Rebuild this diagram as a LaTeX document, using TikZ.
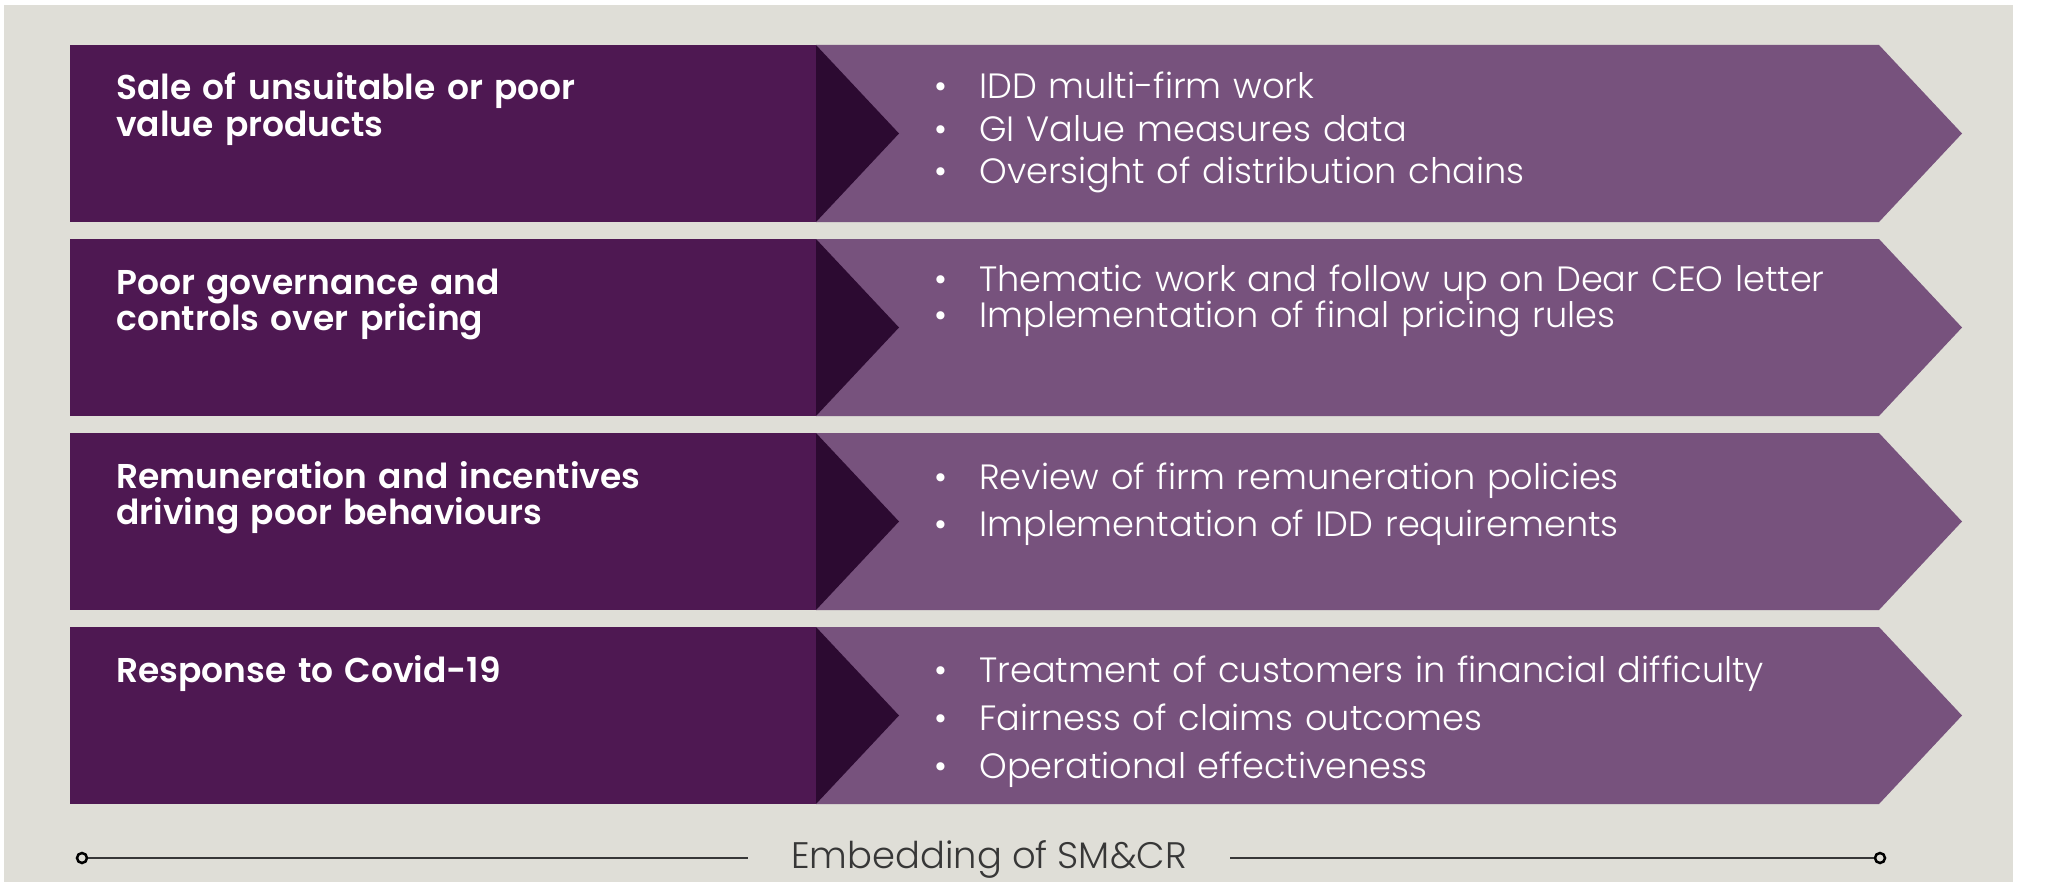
\documentclass[tikz,border=0pt]{standalone}
\usepackage{fontspec}
\usepackage{xcolor}
\usetikzlibrary{calc}
\newfontfamily\headfont{Poppins SemiBold}
\newfontfamily\itemfont{Poppins Light}
\definecolor{bggray}{RGB}{223,222,215}
\definecolor{plumdark}{RGB}{78,24,82}
\definecolor{plumdeep}{RGB}{44,10,49}
\definecolor{plumlight}{RGB}{119,82,125}
\definecolor{rulegray}{RGB}{55,55,55}
\newcommand{\itm}{\makebox[0.9cm][l]{\textbullet}}
% one band: dark box, notch and light arrow, hung on its top left corner
\newcommand{\band}[1]{%
  \fill[plumdark] (#1) rectangle ++(746,177);
  \fill[plumlight] ($(#1)+(746,0)$) -- ++(1063,0) -- ++(83,88.5) -- ++(-83,88.5) -- ++(-1063,0) -- cycle;
  \fill[plumdeep] ($(#1)+(746,0)$) -- ++(83,88.5) -- ++(-83,88.5) -- cycle;
}

\begin{document}
\begin{tikzpicture}[x=0.02cm,y=-0.02cm,
    headtext/.style={anchor=base west,inner sep=0pt,text width=12cm,align=left,text=white,
      font=\headfont\fontsize{19.6pt}{0.74cm}\selectfont},
    itemlist/.style={anchor=base west,inner sep=0pt,text width=19cm,align=left,text=white,
      font=\itemfont\fontsize{20pt}{#1}\selectfont},
    endring/.style={circle,draw=black,line width=0.05cm,fill=bggray,minimum size=0.2cm,inner sep=0pt},
    embtext/.style={anchor=base,inner xsep=0.86cm,inner ysep=0pt,text=rulegray,
      font=\itemfont\fontsize{21pt}{24pt}\selectfont},
    rule/.style={draw=rulegray,line width=0.024cm}]

    % canvas and backdrop
    \useasboundingbox (0,0) rectangle (2060,882);
    \fill[white] (0,0) rectangle (2060,882);
    \fill[bggray] (4,5) rectangle (2013,882);

    % Define the step between two bands as a coordinate
    \coordinate (displacement) at (0,194);
    \coordinate (row1) at (70,45);
    \coordinate (row2) at ($(row1)+(displacement)$);
    \coordinate (row3) at ($(row2)+(displacement)$);
    \coordinate (row4) at ($(row3)+(displacement)$);

    \band{row1}
    \band{row2}
    \band{row3}
    \band{row4}

    \node[headtext] (head1) at ($(row1)+(46,55)$) {Sale of unsuitable or poor\\value products};
    \node[headtext] (head2) at ($(row2)+(46,55)$) {Poor governance and\\controls over pricing};
    \node[headtext] (head3) at ($(row3)+(46,55)$) {Remuneration and incentives\\driving poor behaviours};
    \node[headtext] (head4) at ($(row4)+(46,55)$) {Response to Covid-19};

    \node[itemlist=0.85cm] (items1) at ($(row1)+(864,54)$)
      {\itm IDD multi-firm work\\\itm GI Value measures data\\\itm Oversight of distribution chains};
    \node[itemlist=0.73cm] (items2) at ($(row2)+(864,52)$)
      {\itm Thematic work and follow up on Dear CEO letter\\\itm Implementation of final pricing rules};
    \node[itemlist=0.95cm] (items3) at ($(row3)+(864,56)$)
      {\itm Review of firm remuneration policies\\\itm Implementation of IDD requirements};
    \node[itemlist=0.97cm] (items4) at ($(row4)+(864,55)$)
      {\itm Treatment of customers in financial difficulty\\\itm Fairness of claims outcomes\\\itm Operational effectiveness};

    % timeline underneath
    \node[endring] (lend) at (82,858) {};
    \node[endring] (rend) at (1880,858) {};
    \node[embtext] (emb) at (989,868) {Embedding of SM\&CR};
    \draw[rule] (lend) -- (lend -| emb.west);
    \draw[rule] (rend -| emb.east) -- (rend);

\end{tikzpicture}
\end{document}
